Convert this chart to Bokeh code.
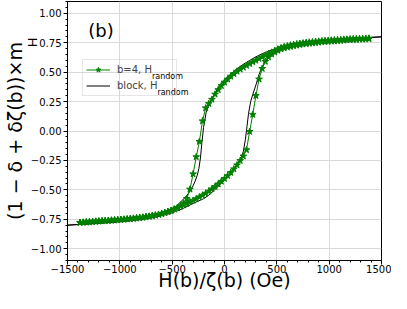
import math
from bokeh.plotting import figure
from bokeh.models import FixedTicker, Legend, LegendItem, Label, Range1d, Title
from bokeh.embed import file_html
from bokeh.resources import INLINE

# ---------------- data ----------------
green_field = [
    -1380, -1350, -1320, -1290, -1260, -1230, -1200, -1170, -1140, -1110,
    -1080, -1050, -1020, -990, -960, -930, -900, -870, -840, -810,
    -780, -750, -720, -690, -660, -630, -600, -570, -540, -510,
    -480, -450, -420, -390, -360, -330, -300, -270, -240, -210,
    -180, -150, -120, -90, -60, -30, 0, 30, 60, 90,
    120, 150, 180, 210, 240, 270, 300, 330, 360, 390,
    420, 450, 480, 510, 540, 570, 600, 630, 660, 690,
    720, 750, 780, 810, 840, 870, 900, 930, 960, 990,
    1020, 1050, 1080, 1110, 1140, 1170, 1200, 1230, 1260, 1290,
    1320, 1350, 1380]
# descending-field branch (listed in ascending field order)
green_m_upper = [
    -0.777, -0.775, -0.773, -0.771, -0.769, -0.767, -0.766, -0.764, -0.762, -0.760,
    -0.758, -0.756, -0.754, -0.752, -0.750, -0.748, -0.745, -0.742, -0.739, -0.736,
    -0.733, -0.729, -0.725, -0.720, -0.715, -0.709, -0.702, -0.694, -0.685, -0.675,
    -0.664, -0.652, -0.636, -0.612, -0.575, -0.495, -0.365, -0.220, -0.090, 0.085,
    0.195, 0.232, 0.268, 0.312, 0.350, 0.384, 0.414, 0.440, 0.464, 0.486,
    0.506, 0.524, 0.540, 0.556, 0.571, 0.586, 0.600, 0.615, 0.629, 0.642,
    0.655, 0.668, 0.682, 0.695, 0.706, 0.715, 0.722, 0.729, 0.734, 0.739,
    0.743, 0.747, 0.751, 0.754, 0.757, 0.760, 0.762, 0.765, 0.767, 0.769,
    0.771, 0.773, 0.775, 0.776, 0.778, 0.779, 0.781, 0.782, 0.783, 0.784,
    0.785, 0.786, 0.787]
# ascending-field branch
green_m_lower = [
    -0.779, -0.777, -0.775, -0.773, -0.771, -0.769, -0.767, -0.765, -0.763, -0.761,
    -0.759, -0.757, -0.755, -0.753, -0.751, -0.749, -0.746, -0.743, -0.740, -0.737,
    -0.734, -0.730, -0.726, -0.721, -0.716, -0.710, -0.703, -0.695, -0.686, -0.676,
    -0.665, -0.653, -0.641, -0.629, -0.617, -0.604, -0.590, -0.576, -0.561, -0.546,
    -0.530, -0.512, -0.493, -0.473, -0.451, -0.428, -0.405, -0.380, -0.353, -0.323,
    -0.289, -0.252, -0.214, -0.160, -0.005, 0.140, 0.300, 0.440, 0.530, 0.590,
    0.628, 0.652, 0.670, 0.684, 0.695, 0.704, 0.711, 0.717, 0.723, 0.728,
    0.733, 0.737, 0.741, 0.744, 0.747, 0.750, 0.753, 0.756, 0.758, 0.760,
    0.762, 0.764, 0.766, 0.768, 0.770, 0.772, 0.773, 0.775, 0.776, 0.778,
    0.779, 0.780, 0.782]

black_field_down = [1500, 1400, 1300, 1200, 1100, 1000, 900, 800, 700, 600, 550,
                    500, 450, 400, 350, 300, 250, 200, 150, 100, 50, 0, -50, -100,
                    -150, -175, -200, -215, -230, -245, -260, -280, -300, -340,
                    -380, -420, -460, -500, -560, -600, -700, -800, -900, -1000,
                    -1100, -1200, -1300, -1400, -1500]
black_m_down = [0.800, 0.795, 0.790, 0.785, 0.779, 0.773, 0.766, 0.757, 0.745, 0.727,
                0.716, 0.703, 0.688, 0.671, 0.652, 0.630, 0.605, 0.578, 0.548, 0.515,
                0.477, 0.432, 0.378, 0.310, 0.225, 0.160, 0.030, -0.090, -0.230,
                -0.320, -0.375, -0.425, -0.465, -0.525, -0.568, -0.603, -0.637,
                -0.662, -0.690, -0.705, -0.730, -0.746, -0.758, -0.767, -0.775,
                -0.782, -0.788, -0.794, -0.800]
black_field_up = [-1500, -1400, -1300, -1200, -1100, -1000, -900, -800, -700, -600,
                  -500, -450, -400, -350, -300, -250, -200, -150, -100, -50, 0, 50,
                  100, 130, 160, 180, 200, 215, 230, 250, 270, 300, 330, 360, 400,
                  450, 500, 550, 600, 700, 800, 900, 1000, 1100, 1200, 1300, 1400,
                  1500]
black_m_up = [-0.800, -0.795, -0.790, -0.784, -0.778, -0.771, -0.763, -0.753, -0.739,
              -0.720, -0.695, -0.678, -0.659, -0.638, -0.615, -0.595, -0.575, -0.545,
              -0.505, -0.462, -0.415, -0.365, -0.310, -0.272, -0.222, -0.175, -0.070,
              0.040, 0.150, 0.250, 0.310, 0.390, 0.480, 0.545, 0.600, 0.640, 0.668,
              0.690, 0.706, 0.730, 0.747, 0.759, 0.768, 0.776, 0.783, 0.789, 0.795,
              0.800]

x_ticks = [-1500, -1000, -500, 0, 500, 1000, 1500]
x_tick_labels = ["\u22121500", "\u22121000", "\u2212500", "0", "500", "1000", "1500"]
y_ticks = [-1.0, -0.75, -0.5, -0.25, 0.0, 0.25, 0.5, 0.75, 1.0]
y_tick_labels = ["\u22121.00", "\u22120.75", "\u22120.50", "\u22120.25", "0.00",
                 "0.25", "0.50", "0.75", "1.00"]
legend_labels = ["b=4, H", "block, H"]
legend_subscript = "random"
panel_tag = "(b)"
x_title = "H(b)/\u03b6(b) (Oe)"
y_title = "(1 \u2212 \u03b4 + \u03b4\u03b6(b))\u00d7m"
y_title_sub = "H"

FONT = "DejaVu Sans"
GREEN = "#008000"
NBSP = "\u00a0"

# ---------------- figure ----------------
p = figure(width=391, height=293,
           x_range=Range1d(-1500, 1500), y_range=Range1d(-1.1, 1.1),
           output_backend="svg", toolbar_location=None,
           min_border_left=53, min_border_right=10, min_border_top=1,
           min_border_bottom=0)
p.background_fill_color = "white"
p.border_fill_color = "white"
p.outline_line_color = "black"
p.outline_line_width = 1

x_minor = [v for v in range(-1500, 1501, 100)]
y_minor = [round(-1.1 + 0.05 * i, 2) for i in range(45)]
p.xaxis.ticker = FixedTicker(ticks=x_ticks, minor_ticks=x_minor)
p.yaxis.ticker = FixedTicker(ticks=y_ticks, minor_ticks=y_minor)
p.xaxis.major_label_overrides = {t: s for t, s in zip(x_ticks, x_tick_labels)}
p.yaxis.major_label_overrides = {t: s for t, s in zip(y_ticks, y_tick_labels)}

for ax in (p.xaxis, p.yaxis):
    ax.axis_line_color = "black"
    ax.major_tick_line_color = "black"
    ax.minor_tick_line_color = "black"
    ax.major_tick_in = 0
    ax.major_tick_out = 4
    ax.minor_tick_in = 0
    ax.minor_tick_out = 2
    ax.major_label_text_font = FONT
    ax.major_label_text_font_size = "10px"
    ax.major_label_text_color = "black"
    ax.major_label_standoff = 2
    ax.axis_label_text_font = FONT
    ax.axis_label_text_font_size = "19px"
    ax.axis_label_text_font_style = "normal"
    ax.axis_label_text_color = "black"

p.xaxis.axis_label = x_title
p.xaxis.axis_label_standoff = -7
p.xaxis.major_label_standoff = 0

p.yaxis.axis_label = y_title
p.yaxis.axis_label_standoff = 2

# subscript of the y title, as a side title
p.add_layout(Title(text=y_title_sub, align="right", offset=36, standoff=-78,
                   text_font=FONT, text_font_size="13px",
                   text_font_style="normal", text_color="black"), "left")

p.xgrid.grid_line_color = "#d9d9d9"
p.ygrid.grid_line_color = "#d9d9d9"

# ---------------- data renderers ----------------
black_x = black_field_down + black_field_up
black_y = black_m_down + black_m_up
r_black = p.line(black_x, black_y, line_color="black", line_width=1)

green_x = green_field + green_field[::-1]
green_y = green_m_lower + green_m_upper[::-1]
r_gline = p.line(green_x, green_y, line_color=GREEN, line_width=1)
r_gstar = p.scatter(green_x, green_y, marker="star", size=7,
                    fill_color=GREEN, line_color=GREEN)

# ---------------- legend ----------------
legend = Legend(items=[LegendItem(label=legend_labels[0] + NBSP * 5,
                                  renderers=[r_gline, r_gstar]),
                       LegendItem(label=legend_labels[1] + NBSP * 5,
                                  renderers=[r_black])],
                location=(15, 164), orientation="vertical",
                padding=3, spacing=3, margin=0,
                glyph_width=24, glyph_height=13, label_standoff=7,
                label_height=13,
                label_text_font=FONT, label_text_font_size="10px",
                border_line_color="#cccccc", border_line_width=1,
                background_fill_color="white", background_fill_alpha=0.0)
p.add_layout(legend, "center")

sub_pos = [(84.5, 184.5), (89.9, 168.5)]
for (sx, sy) in sub_pos:
    p.add_layout(Label(x=sx, y=sy, x_units="screen", y_units="screen",
                       text=legend_subscript, text_font=FONT, text_font_size="8px",
                       text_align="left", text_baseline="alphabetic",
                       text_color="black", level="overlay"))

# panel tag
p.add_layout(Label(x=-1302, y=0.85, text=panel_tag, text_font=FONT,
                   text_font_size="18px", text_align="left",
                   text_baseline="alphabetic", text_color="black"))

open("out.html", "w").write(file_html(p, INLINE))
